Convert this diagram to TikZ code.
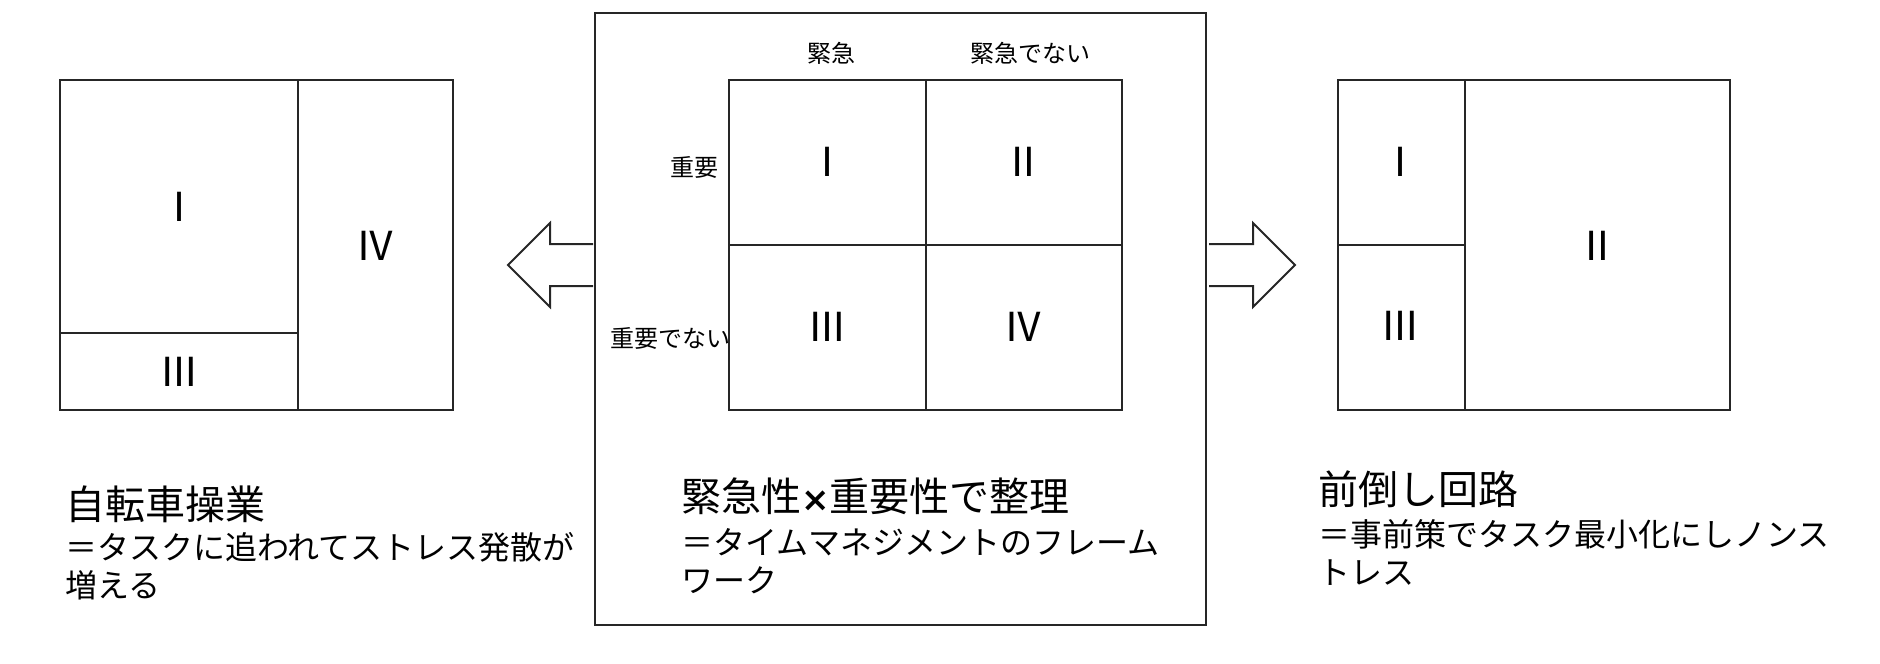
\documentclass[tikz,border=0pt]{standalone}
\usepackage{fontspec}
\setmainfont{Noto Sans CJK JP}
\newfontfamily\xfont{DejaVu Sans}
\usepackage{tikz}
\usetikzlibrary{positioning}
\tikzstyle{box}=[draw, line width=1pt, color=black!85]
\tikzstyle{num}=[inner sep=0pt, font=\fontsize{20pt}{24pt}\selectfont]
\tikzstyle{lbl}=[inner sep=0pt, font=\fontsize{12pt}{14pt}\selectfont]
\tikzstyle{ttl}=[inner sep=0pt, anchor=west, font=\fontsize{20pt}{24pt}\selectfont]
\tikzstyle{txt}=[inner sep=0pt, anchor=west, align=left, font=\fontsize{16pt}{19pt}\selectfont]

\begin{document}
\begin{tikzpicture}[x=0.5pt, y=-0.5pt]
            \useasboundingbox (0,0) rectangle (1880,664);
            % left: before
            \draw[box] (60,80) rectangle (453,410);
            \draw[box] (298,80) -- (298,410);
            \draw[box] (60,333) -- (298,333);
            \node[num] (LI) at (179,207) {Ⅰ};
            \node[num] (LIV) at (375,246) {Ⅳ};
            \node[num] (LIII) at (179,372) {Ⅲ};
            \draw[box] (593,244) -- (550,244) -- (550,223) -- (508,265)
                -- (550,307) -- (550,286) -- (593,286);
            % center: framework
            \draw[box] (595,13) rectangle (1206,625);
            \draw[box] (729,80) rectangle (1122,410);
            \draw[box] (926,80) -- (926,410);
            \draw[box] (729,245) -- (1122,245);
            \node[lbl] (U) at (831,53) {緊急};
            \node[lbl] (NU) at (1030,53) {緊急でない};
            \node[lbl, anchor=east] (IM) at (719,167) {重要};
            \node[lbl, anchor=east] (NIM) at (731,338) {重要でない};
            \node[num] (CI) at (827,162) {Ⅰ};
            \node[num] (CII) at (1023,162) {Ⅱ};
            \node[num] (CIII) at (827,327) {Ⅲ};
            \node[num] (CIV) at (1023,327) {Ⅳ};
            \draw[box] (1209,244) -- (1253,244) -- (1253,223) -- (1295,265)
                -- (1253,307) -- (1253,286) -- (1209,286);
            % right: after
            \draw[box] (1338,80) rectangle (1730,410);
            \draw[box] (1465,80) -- (1465,410);
            \draw[box] (1338,245) -- (1465,245);
            \node[num] (RI) at (1400,162) {Ⅰ};
            \node[num] (RIII) at (1400,326) {Ⅲ};
            \node[num] (RII) at (1597,246) {Ⅱ};
            % captions
            \node[ttl] (LT) at (65,504) {自転車操業};
            \node[txt] (LS) at (65,566) {＝タスクに追われてストレス発散が\\増える};
            \node[ttl] (CT) at (681,496) {緊急性{\xfont\bfseries\fontsize{17pt}{20pt}\selectfont ×}重要性で整理};
            \node[txt] (CS) at (681,561) {＝タイムマネジメントのフレーム\\ワーク};
            \node[ttl] (RT) at (1318,489) {前倒し回路};
            \node[txt] (RS) at (1318,552) {＝事前策でタスク最小化にしノンス\\トレス};
        \end{tikzpicture}
\end{document}
